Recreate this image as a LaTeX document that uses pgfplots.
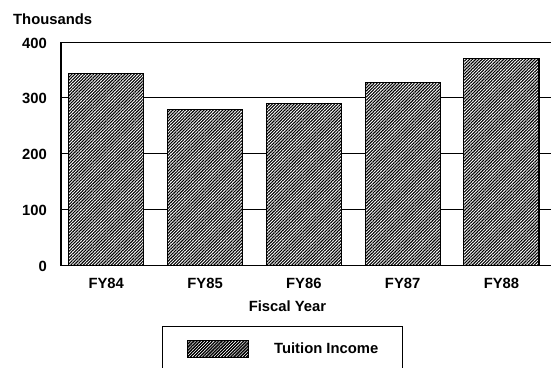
\documentclass[border=0pt]{standalone}
\usepackage{pgfplots}
\pgfplotsset{compat=1.18}
\usetikzlibrary{patterns.meta}
\usepackage{fontspec}
\setmainfont{Liberation Sans}
\newcommand{\lf}{\fontsize{14.8}{17}\selectfont\bfseries}
\begin{document}
\begin{tikzpicture}[x=1pt,y=1pt]
\begin{axis}[
  at={(61pt,101.5pt)}, anchor=south west,
  scale only axis, width=495pt, height=223.5pt,
  xmin=-0.458, xmax=4.552, ymin=0, ymax=400,
  axis x line*=bottom, axis y line*=left,
  axis line style={line width=1.4pt},
  ytick={0,100,200,300,400},
  ymajorgrids, grid style={black, line width=0.9pt},
  xtick={0,1,2,3,4},
  xticklabels={FY84,FY85,FY86,FY87,FY88},
  major tick length=0pt,
  tick label style={font=\lf},
  /pgf/number format/assume math mode=true,
  xticklabel style={anchor=base, inner sep=0pt, yshift=-22.8pt},
  yticklabel style={anchor=east, inner sep=0pt, xshift=-14pt, yshift=-1pt},
  legend style={at={(0.204,-0.2694)}, anchor=north west, draw=black, line width=1.2pt,
    inner xsep=24.5pt, inner ysep=13.5pt, nodes={inner sep=0pt}, font=\lf},
  legend image code/.code={
    \draw[line width=1pt, pattern={Lines[angle=45,distance=2.2pt,line width=1.1pt]}] (0pt,-8.5pt) rectangle (61pt,8.5pt);
    \path (86pt,0pt);
  },
]
\addplot[ybar, bar width=0.76, draw=black, line width=1.1pt, fill=white,
  postaction={pattern={Lines[angle=45,distance=2.2pt,line width=1.1pt]}}]
  coordinates {(0,343) (1,279) (2,290) (3,328) (4,371)};
\addlegendentry{Tuition Income\hspace{6pt}}
\end{axis}
\node[anchor=base west, font=\lf, inner sep=0pt] at (13pt,342pt) {Thousands};
\node[anchor=base, font=\lf, inner sep=0pt] at (287.5pt,56pt) {Fiscal Year};
\pgfresetboundingbox
\useasboundingbox (0pt,0pt) rectangle (551pt,367pt);
\end{tikzpicture}
\end{document}
